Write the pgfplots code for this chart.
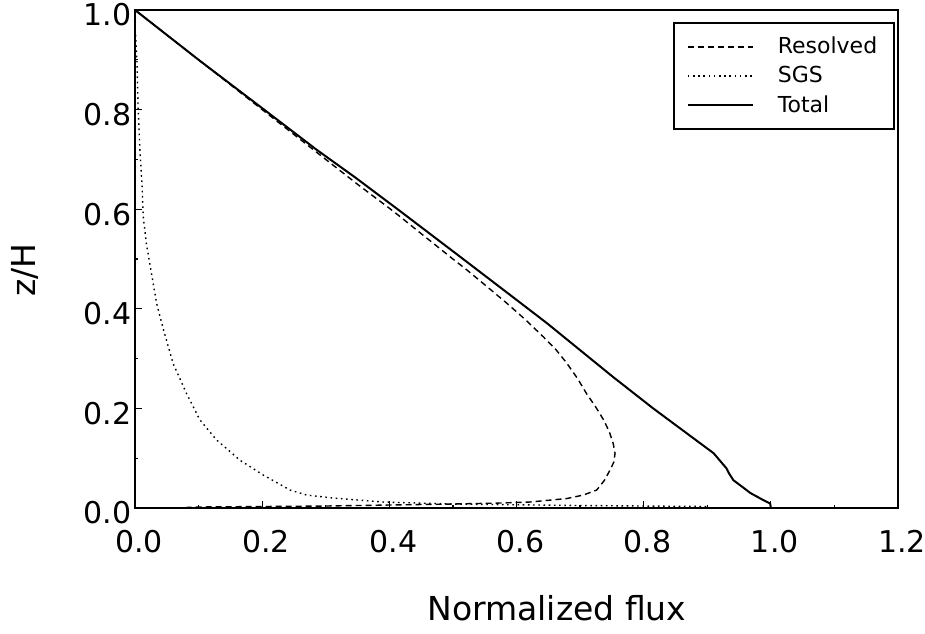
\documentclass[border=0pt]{standalone}
\usepackage{pgfplots}
\pgfplotsset{compat=1.18}
\usepackage{fontspec}
\setmainfont{DejaVu Sans}

\pgfplotstableread{
x y
0.000 1.000
0.050 0.950
0.100 0.900
0.203 0.800
0.285 0.720
0.345 0.665
0.413 0.600
0.516 0.500
0.600 0.418
0.648 0.371
0.752 0.263
0.815 0.200
0.910 0.110
0.930 0.080
0.934 0.070
0.941 0.056
0.968 0.030
0.988 0.016
0.999 0.009
1.000 0.000
}\totaltab

\pgfplotstableread{
x y
0.000 1.000
0.100 0.900
0.200 0.800
0.300 0.700
0.350 0.650
0.402 0.600
0.417 0.585
0.450 0.551
0.500 0.500
0.522 0.478
0.555 0.443
0.585 0.411
0.615 0.377
0.642 0.344
0.662 0.318
0.679 0.291
0.696 0.260
0.710 0.230
0.725 0.202
0.737 0.177
0.746 0.153
0.752 0.130
0.755 0.110
0.753 0.092
0.747 0.076
0.738 0.055
0.726 0.036
0.705 0.026
0.679 0.019
0.621 0.012
0.574 0.010
0.500 0.008
0.400 0.006
0.300 0.004
0.200 0.003
0.100 0.002
0.080 0.001
}\resolvedtab

\pgfplotstableread{
x y
0.001 0.950
0.003 0.900
0.005 0.800
0.008 0.712
0.011 0.650
0.013 0.585
0.018 0.530
0.024 0.485
0.034 0.411
0.045 0.357
0.060 0.290
0.081 0.230
0.102 0.177
0.128 0.137
0.165 0.096
0.202 0.066
0.244 0.036
0.270 0.026
0.312 0.020
0.390 0.012
0.500 0.008
0.700 0.005
0.900 0.003
}\sgstab

\begin{document}
\begin{tikzpicture}
\useasboundingbox (-67.5pt,-62.5pt) rectangle (395pt,254pt);
\begin{axis}[
  scale only axis, width=381.5pt, height=249pt,
  xmin=0, xmax=1.2, ymin=0, ymax=1.0,
  xtick={0,0.2,0.4,0.6,0.8,1.0,1.2},
  ytick={0,0.2,0.4,0.6,0.8,1.0},
  minor x tick num=1, minor y tick num=1,
  tick pos=left, tick align=inside,
  major tick length=3.5pt, minor tick length=1.5pt,
  axis line style={line width=1pt},
  every tick/.style={black, line width=0.6pt},
  /pgf/number format/fixed,
  /pgf/number format/fixed zerofill,
  /pgf/number format/precision=1,
  /pgf/number format/assume math mode=true,
  tick label style={font=\fontsize{15}{18}\selectfont},
  xticklabel style={anchor=base, yshift=-22pt, xshift=2pt},
  yticklabel style={anchor=east, inner sep=0pt, xshift=-1.6pt, yshift=-2.5pt},
  xlabel={Normalized flux},
  ylabel={z/H},
  label style={font=\fontsize{16.5}{20}\selectfont},
  xlabel style={at={(axis description cs:0.553,-0.2008)}, anchor=center},
  ylabel style={at={(axis description cs:-0.144,0.478)}, anchor=center, rotate=0},
  legend image code/.code={\draw[#1] (0pt,0pt) -- (32.5pt,0pt);},
  legend cell align=left,
  legend style={at={(rel axis cs:0.996,0.975)}, anchor=north east,
    draw=black, line width=0.75pt,
    font=\fontsize{11}{13}\selectfont,
    inner xsep=6.5pt, inner ysep=5pt,
    column sep=10pt, row sep=0.8pt},
]
\addplot[black, line width=0.7pt, dash pattern=on 3pt off 2pt] table {\resolvedtab};
\addlegendentry{Resolved}
\addplot[black, line width=0.7pt, dash pattern=on 0.8pt off 1.8pt] table {\sgstab};
\addlegendentry{SGS}
\addplot[black, line width=1pt] table {\totaltab};
\addlegendentry{Total}
\end{axis}
\end{tikzpicture}
\end{document}
